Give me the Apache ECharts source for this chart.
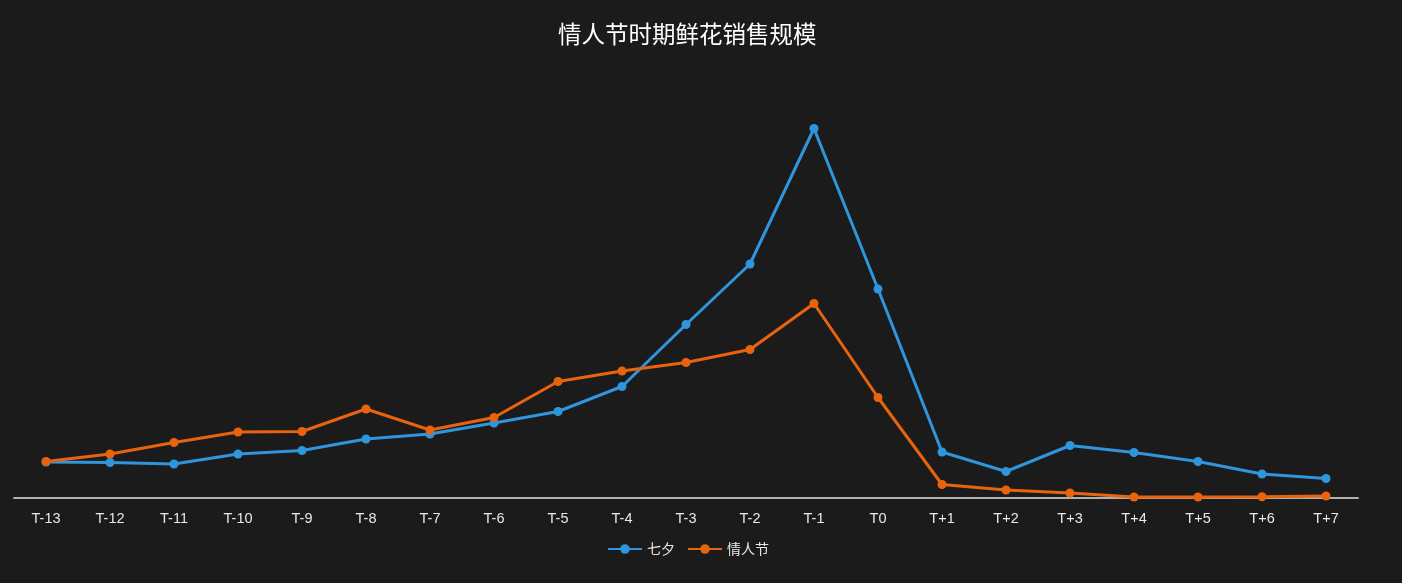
<!DOCTYPE html>
<html>
<head>
<meta charset="utf-8">
<script src="https://cdn.jsdelivr.net/npm/echarts@6/dist/echarts.min.js"></script>
<style>
  html, body { margin: 0; padding: 0; background: #1b1b1b; }
  #chart { width: 1402px; height: 583px; }
</style>
</head>
<body>
<div id="chart"></div>
<script>
// Catégories (jours autour de la fête)
const categories = ['T-13', 'T-12', 'T-11', 'T-10', 'T-9', 'T-8', 'T-7', 'T-6', 'T-5', 'T-4', 'T-3',
  'T-2', 'T-1', 'T0', 'T+1', 'T+2', 'T+3', 'T+4', 'T+5', 'T+6', 'T+7'];

// Valeurs relatives
const qixi = [36, 35.5, 34, 44, 47.5, 59, 64, 75, 86.5, 111.5, 173.5, 234, 369.5, 209, 46, 26.5, 52.5, 45.5, 36.5, 24, 19.5];
const valentin = [36.5, 44, 55.5, 66, 66.5, 89, 68, 80.5, 116.5, 127, 135.5, 148.5, 194.5, 100.5, 13.5, 8, 5, 1, 1, 1.2, 2];

const chart = echarts.init(document.getElementById('chart'));

// Titre et légende centrés sur la zone de tracé, pas sur la fenêtre
const option = {
  backgroundColor: '#1b1b1b',
  title: {
    text: '情人节时期鲜花销售规模',
    left: 553,
    top: 17,
    textStyle: { color: '#ffffff', fontSize: 23.5, fontWeight: 'normal', fontFamily: 'Noto Sans CJK SC' }
  },
  legend: {
    bottom: 22,
    left: 602,
    itemWidth: 34,
    itemHeight: 12,
    itemGap: 12,
    textStyle: { color: '#e8e8e8', fontSize: 14, fontFamily: 'Noto Sans CJK SC' },
    data: ['七夕', '情人节']
  },
  grid: { left: 14, right: 44, top: 60, bottom: 85 },
  xAxis: {
    type: 'category',
    data: categories,
    boundaryGap: true,
    axisLine: { lineStyle: { color: '#b0b0b0', width: 2 } },
    axisTick: { show: false },
    axisLabel: { color: '#e8e8e8', fontSize: 14.5, margin: 13, fontFamily: 'Liberation Sans' }
  },
  yAxis: {
    type: 'value',
    min: 0,
    max: 438,
    show: false,
    splitLine: { show: false }
  },
  series: [
    {
      name: '七夕',
      type: 'line',
      data: qixi,
      color: '#2f95dc',
      symbol: 'circle',
      symbolSize: 9,
      lineStyle: { width: 3 }
    },
    {
      name: '情人节',
      type: 'line',
      data: valentin,
      color: '#e8630e',
      symbol: 'circle',
      symbolSize: 9,
      lineStyle: { width: 3 }
    }
  ]
};

chart.setOption(option);
</script>
</body>
</html>
